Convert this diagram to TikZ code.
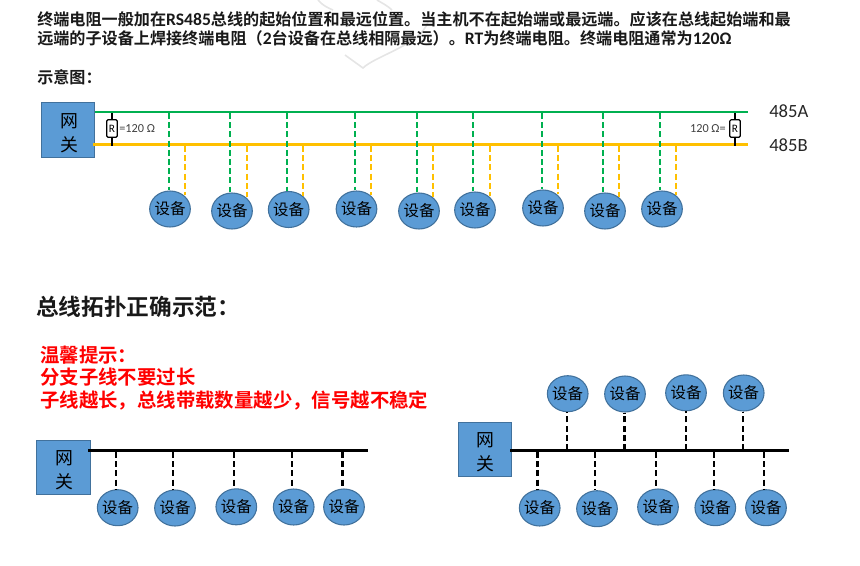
\documentclass[tikz,border=0pt]{standalone}
\usepackage{fontspec}
\setmainfont{Carlito}
\newfontfamily\cjk{Noto Sans CJK SC}
\newfontfamily\cjkb{Noto Sans CJK SC Bold}
\newfontfamily\latb{Carlito Bold}
\newcommand{\devtext}{\smash{\raisebox{-.38em}{\makebox[0pt]{设备}}}}
\newcommand{\lb}[1]{{\latb\fontsize{13.2}{14}\selectfont #1}}
\definecolor{boxblue}{HTML}{5B9BD5}
\definecolor{boxedge}{HTML}{41719C}
\definecolor{busgreen}{HTML}{00B050}
\definecolor{busyellow}{HTML}{FFC000}
\usetikzlibrary{shapes.geometric}
\tikzset{
  device/.style={ellipse,draw=boxedge,line width=0.8pt,fill=boxblue,minimum width=30.5pt,minimum height=27pt,inner sep=0pt,text=black,font=\cjk\fontsize{11.6}{12}\selectfont},
  gateway/.style={rectangle,draw=boxedge,line width=0.8pt,fill=boxblue,inner sep=0pt,minimum width=40pt,minimum height=41pt,align=center,font=\cjk\fontsize{13.4}{18}\selectfont},
  para/.style={anchor=west,inner sep=0pt,font=\cjkb\fontsize{12.08}{14}\selectfont,text=black!90},
  redtext/.style={anchor=west,inner sep=0pt,text=red,font=\cjkb\fontsize{14.55}{16}\selectfont},
  greenbus/.style={draw=busgreen,line width=1.6pt},
  yellowbus/.style={draw=busyellow,line width=1.6pt},
  greendrop/.style={draw=busgreen,line width=1.5pt,dash pattern=on 4.5pt off 2.4pt},
  yellowdrop/.style={draw=busyellow,line width=1.5pt,dash pattern=on 4.5pt off 2.4pt},
  blackbus/.style={draw=black,line width=2.2pt},
  blackdrop/.style={draw=black,line width=1.8pt,dash pattern=on 4.5pt off 2.4pt},
  resistor/.style={rectangle,rounded corners=1pt,draw=black,line width=0.9pt,fill=white,minimum width=8pt,minimum height=13pt,inner sep=0pt,font=\fontsize{8.5}{9}\selectfont},
  ohm/.style={inner sep=0pt,text=black!75,font=\fontsize{9.2}{10}\selectfont},
  buslabel/.style={anchor=west,inner sep=0pt,text=black!85,font=\fontsize{14}{16}\selectfont},
}
\begin{document}
\begin{tikzpicture}[x=0.75pt,y=-0.75pt]
\useasboundingbox (0,0) rectangle (860,565);
% watermark
\draw[black!10,line width=1.2pt] (345,55) -- (363,68) .. controls (375,56) and (420,45) .. (428,22);
\draw[black!10,line width=1.2pt] (318,0) .. controls (322,5) and (328,8) .. (333,10);
\draw[black!10,line width=1.2pt] (377,0) .. controls (382,3) and (388,6) .. (392,10);
% text
\node[para] (t1) at (37,19) {终端电阻一般加在\lb{RS485}总线的起始位置和最远位置。当主机不在起始端或最远端。应该在总线起始端和最};
\node[para] (t2) at (37,38) {远端的子设备上焊接终端电阻（\lb{2}台设备在总线相隔最远）。\lb{RT}为终端电阻。终端电阻通常为\lb{120Ω}};
\node[para] (t3) at (37,77) {示意图：};
\node[para,font=\cjkb\fontsize{17}{18}\selectfont] (t4) at (36,307) {总线拓扑正确示范：};
\node[redtext] (r1) at (40,355) {温馨提示：};
\node[redtext] (r2) at (40,377) {分支子线不要过长};
\node[redtext] (r3) at (40,400) {子线越长，总线带载数量越少，信号越不稳定};
% top diagram
\node[gateway] (gwtop) at (68,130) {\rule{0pt}{15pt}\hspace*{1.5pt}网\\\hspace*{1.5pt}关};
\coordinate (ga0) at (95,112);  \coordinate (ga1) at (748,112);
\coordinate (gb0) at (93,144.5);\coordinate (gb1) at (748,144.5);
\draw[greenbus] (ga0) -- (ga1);
\draw[yellowbus] (gb0) -- (gb1);
\node[buslabel] (la) at (769,111) {485A};
\node[buslabel] (lb) at (769,145) {485B};
% resistors
\coordinate (ra0) at (112,113); \coordinate (rb0) at (112,146);
\coordinate (ra1) at (735,113); \coordinate (rb1) at (735,146);
\draw[black,line width=1.1pt] (ra0) -- (rb0);
\draw[black,line width=1.1pt] (ra1) -- (rb1);
\node[resistor] (r0) at (112,128.5) {R};
\node[resistor] (rr) at (735,128.5) {R};
\node[ohm,anchor=west] (o0) at (119,128.5) {=120 Ω};
\node[ohm,anchor=east] (o1) at (726,128.5) {120 Ω=};
% top devices
\foreach \n/\cx/\cy/\gx/\yx in {1/170/209/168.5/185,2/232/211/230/246.7,3/288.7/209.5/287/303,4/356.5/209/355/371,5/419/211/416.7/433,6/475/210/473/490,7/543/208/541.7/557.7,8/605/211/603/619,9/662/209/660/676}{
  \node[device] (d\n) at (\cx,\cy) {\devtext};
  \coordinate (ga\n x) at (\gx,113);
  \coordinate (gb\n x) at (\yx,146);
  \draw[greendrop] (ga\n x) -- (ga\n x |- d\n.north);
  \draw[yellowdrop] (gb\n x) -- (gb\n x |- d\n.45);
}
% bottom-left
\node[gateway] (gwl) at (63.5,467.5) {\rule{0pt}{15pt}\hspace*{1pt}网\\\hspace*{1pt}关};
\coordinate (bl0) at (88,450.7); \coordinate (bl1) at (368,450.7);
\draw[blackbus] (bl0) -- (bl1);
\foreach \n/\cx/\cy/\dx in {1/117.7/507.7/115.7,2/175/508/173,3/236.3/506.8/234,4/293.7/507/291.7,5/344/507/342.3}{
  \node[device] (l\n) at (\cx,\cy) {\devtext};
  \coordinate (lt\n) at (\dx,452);
  \draw[blackdrop] (lt\n) -- (lt\n |- l\n.north);
}
% bottom-right
\node[gateway] (gwr) at (485,449.5) {\rule{0pt}{15pt}\hspace*{1pt}网\\\hspace*{1pt}关};
\coordinate (br0) at (510,450.7); \coordinate (br1) at (789,450.7);
\draw[blackbus] (br0) -- (br1);
\foreach \n/\cx/\cy/\dx in {1/567.7/393.7/567,2/625/394/624.3,3/686/392.8/685.7,4/743.7/393/743}{
  \node[device] (u\n) at (\cx,\cy) {\devtext};
  \coordinate (ut\n) at (\dx,450);
  \draw[blackdrop] (ut\n) -- (ut\n |- u\n.south);
}
\foreach \n/\cx/\cy/\dx in {1/539.7/508/537.3,2/597/508.7/594.7,3/658/507/656,4/715.3/507.7/713.7,5/766/507.7/764}{
  \node[device] (v\n) at (\cx,\cy) {\devtext};
  \coordinate (vt\n) at (\dx,452);
  \draw[blackdrop] (vt\n) -- (vt\n |- v\n.north);
}
\end{tikzpicture}
\end{document}
